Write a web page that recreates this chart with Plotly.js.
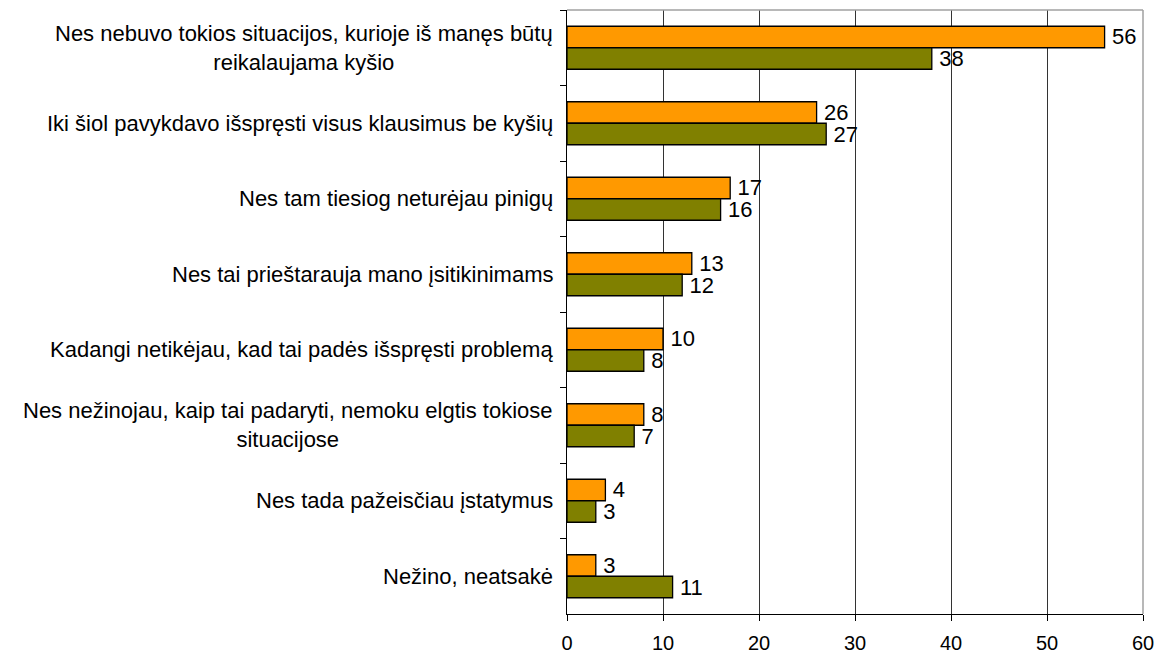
<!DOCTYPE html>
<html>
<head>
<meta charset="utf-8">
<script src="https://cdn.plot.ly/plotly-3.0.1.min.js"></script>
<style>
  html, body { margin: 0; padding: 0; background: #fff; }
  #chart { width: 1160px; height: 657px; }
</style>
</head>
<body>
<div id="chart"></div>
<script>
var categories = [
  'Nes nebuvo tokios situacijos, kurioje iš manęs būtų<br>reikalaujama kyšio',
  'Iki šiol pavykdavo išspręsti visus klausimus be kyšių',
  'Nes tam tiesiog neturėjau pinigų',
  'Nes tai prieštarauja mano įsitikinimams',
  'Kadangi netikėjau, kad tai padės išspręsti problemą',
  'Nes nežinojau, kaip tai padaryti, nemoku elgtis tokiose<br>situacijose',
  'Nes tada pažeisčiau įstatymus',
  'Nežino, neatsakė'
];
var orangeValues = [56, 26, 17, 13, 10, 8, 4, 3];
var oliveValues = [38, 27, 16, 12, 8, 7, 3, 11];

var fontFamily = 'Liberation Sans, Arial, sans-serif';

var trace1 = {
  y: categories,
  x: orangeValues,
  type: 'bar',
  orientation: 'h',
  marker: {color: '#ff9900', line: {color: '#000', width: 1.3}},
  texttemplate: '\u2009%{x}',
  textposition: 'outside',
  constraintext: 'none',
  cliponaxis: false,
  textfont: {size: 22, color: '#000', family: fontFamily}
};

var trace2 = {
  y: categories,
  x: oliveValues,
  type: 'bar',
  orientation: 'h',
  marker: {color: '#808000', line: {color: '#000', width: 1.3}},
  texttemplate: '\u2009%{x}',
  textposition: 'outside',
  constraintext: 'none',
  cliponaxis: false,
  textfont: {size: 22, color: '#000', family: fontFamily}
};

// category labels as annotations so wrapped lines stay centred
var labels = categories.map(function (c) {
  return {
    x: 0, xref: 'paper', xanchor: 'right', xshift: -12,
    y: c, yref: 'y', yanchor: 'middle',
    text: c, showarrow: false, align: 'center',
    font: {size: 22, color: '#000', family: fontFamily}
  };
});

var layout = {
  width: 1160,
  height: 657,
  margin: {l: 567, r: 17, t: 10, b: 43},
  paper_bgcolor: '#fff',
  plot_bgcolor: '#fff',
  showlegend: false,
  barmode: 'group',
  bargap: 0.43,
  bargroupgap: 0,
  font: {family: fontFamily, size: 22, color: '#000'},
  xaxis: {
    range: [0, 60],
    dtick: 10,
    showgrid: true,
    gridcolor: '#333',
    gridwidth: 1,
    zeroline: false,
    showline: true,
    linecolor: '#000',
    linewidth: 1,
    ticks: 'outside',
    ticklen: 6,
    tickcolor: '#000',
    ticklabelstandoff: 5,
    tickfont: {size: 20, color: '#000', family: fontFamily}
  },
  yaxis: {
    type: 'category',
    autorange: 'reversed',
    showticklabels: false,
    tickson: 'boundaries',
    ticks: 'outside',
    ticklen: 6,
    tickcolor: '#000',
    showgrid: false,
    zeroline: false,
    showline: true,
    linecolor: '#000',
    linewidth: 1
  },
  annotations: labels,
  shapes: [
    {type: 'line', xref: 'paper', yref: 'paper', x0: 0, x1: 1, y0: 1, y1: 1, line: {color: '#a0a0a0', width: 1.5}},
    {type: 'line', xref: 'paper', yref: 'paper', x0: 1, x1: 1, y0: 0, y1: 1, line: {color: '#a0a0a0', width: 1.5}}
  ]
};

Plotly.newPlot('chart', [trace1, trace2], layout, {displayModeBar: false, staticPlot: true});
</script>
</body>
</html>
